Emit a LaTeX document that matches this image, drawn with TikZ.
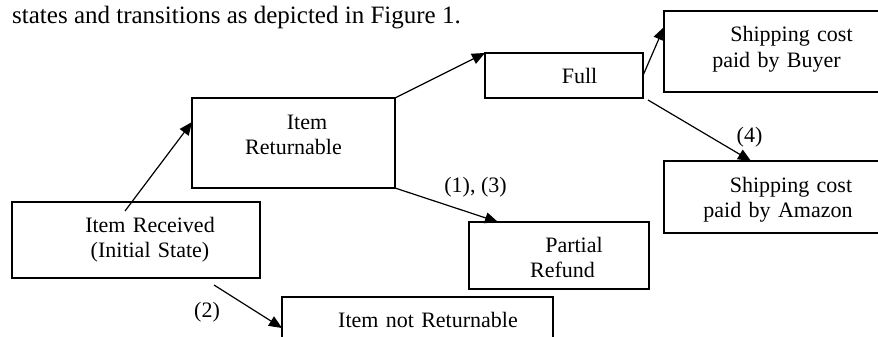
\documentclass[tikz,border=0pt]{standalone}
\usepackage{fontspec}
\setmainfont{Liberation Serif}
\usetikzlibrary{calc,arrows.meta}

\tikzset{
  state/.style={draw,line width=1.2pt,inner sep=0pt,outer sep=0pt,anchor=north west,align=center,font=\fontsize{22}{25}\selectfont},
  trans/.style={line width=1.2pt,-{Triangle[length=13pt,width=11pt]}},
  lbl/.style={anchor=base,inner sep=0pt,font=\fontsize{22}{25}\selectfont}
}

\begin{document}
\begin{tikzpicture}[x=1pt,y=-1pt]
  \useasboundingbox (0,0) rectangle (878,337);
  \clip (0,0) rectangle (878,337);
  \node[lbl,anchor=base west,font=\fontsize{25}{29}\selectfont] (caption) at (12,24) {states and transitions as depicted in Figure 1.};

  \node[state,text width=248pt,text height=30pt,text depth=46pt] (recv) at (12,202) {\hspace*{28pt}Item Received\\\hspace*{28pt}(Initial State)};
  \node[state,text width=203pt,text height=31pt,text depth=59pt] (ret) at (192,98) {\hspace*{27pt}Item\\Returnable};
  \node[state,text width=158pt,text height=31pt,text depth=14pt] (full) at (485,53) {\hspace*{31pt}Full};
  \node[state,text width=218pt,text height=31pt,text depth=50pt] (buyer) at (664,11) {\hspace*{37pt}Shipping cost\\\hspace*{7pt}paid by Buyer};
  \node[state,text width=218pt,text height=31pt,text depth=41pt] (amazon) at (664,161) {\hspace*{36pt}Shipping cost\\\hspace*{10pt}paid by Amazon};
  \node[state,text width=180pt,text height=30pt,text depth=37pt] (partial) at (469,222) {\hspace*{30pt}Partial\\\hspace*{7pt}Refund};
  \node[state,text width=271pt,text height=30pt,text depth=18pt] (notret) at (282,297) {\hspace*{21pt}Item not Returnable};

  \draw[trans] ($(recv.north)+(-11,9)$) -- ($(ret.north west)+(0,24)$);
  \draw[trans] (ret.north east) -- (full.north west);
  \draw[trans] (full.east) -- ($(buyer.north west)+(0,16)$);
  \draw[trans] ($(full.south east)+(5,2)$) -- ($(amazon.north west)+(87,0)$);
  \draw[trans] (ret.south east) -- ($(partial.north west)+(29,0)$);
  \draw[trans] ($(recv.south east)+(-46,7)$) -- ($(notret.north west)+(0,31)$);

  \node[lbl] (c13) at (475.5,192) {(1), (3)};
  \node[lbl] (c4) at (749.5,142) {(4)};
  \node[lbl] (c2) at (207,317) {(2)};
\end{tikzpicture}
\end{document}
